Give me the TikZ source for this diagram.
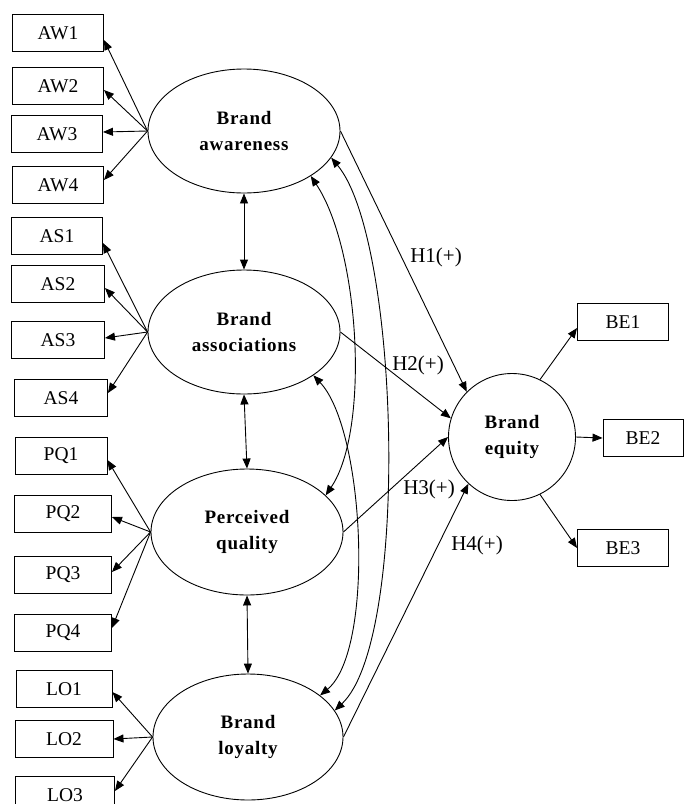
\documentclass[tikz,border=0pt]{standalone}
\usepackage{fontspec}
\setmainfont{Liberation Serif}
\newfontfamily\latfont[LetterSpace=4,BoldFont={Liberation Serif Bold}]{Liberation Serif}
\usetikzlibrary{arrows.meta,shapes.geometric}
\begin{document}
\begin{tikzpicture}[x=1pt,y=-1pt,
  lat/.style={draw, ellipse, line width=0.9pt, minimum width=192pt, minimum height=124pt, inner sep=0pt, align=center, font=\latfont\fontsize{19}{26}\selectfont\bfseries},
  latc/.style={draw, circle, line width=0.9pt, minimum size=127pt, inner sep=0pt, align=center, font=\latfont\fontsize{19}{26}\selectfont\bfseries},
  obs/.style={draw, rectangle, line width=0.9pt, minimum width=92pt, minimum height=37pt, inner sep=0pt, font=\fontsize{19.5}{21}\selectfont},
  arr/.style={-{Triangle[length=10pt,width=8pt]}, line width=0.9pt},
  dbl/.style={{Triangle[length=10pt,width=8pt]}-{Triangle[length=10pt,width=8pt]}, line width=0.9pt},
  hyp/.style={font=\fontsize{21}{23}\selectfont, inner sep=0pt}
]
\useasboundingbox (0,0) rectangle (686,804);
\clip (0,0) rectangle (686,804);

% latent constructs
\node[lat] (aw) at (244,131) {Brand\\awareness};
\node[lat] (as) at (244,332) {Brand\\associations};
\node[lat, minimum height=126pt] (pq) at (247,532) {Perceived\\quality};
\node[lat, minimum width=190pt, minimum height=126pt] (lo) at (248,737) {Brand\\loyalty};
\node[latc] (be) at (512,437) {Brand\\equity};

% indicators
\node[obs, minimum width=91pt] (AW1) at (58,33) {AW1};
\node[obs, minimum width=91pt] (AW2) at (58,86) {AW2};
\node[obs, minimum width=91pt] (AW3) at (57,134) {AW3};
\node[obs, minimum width=91pt] (AW4) at (58,185) {AW4};
\node[obs, minimum width=91pt] (AS1) at (57,236) {AS1};
\node[obs, minimum width=93pt] (AS2) at (58,284) {AS2};
\node[obs, minimum width=93pt] (AS3) at (58,340) {AS3};
\node[obs, minimum width=93pt] (AS4) at (61,398) {AS4};
\node[obs, minimum width=92pt] (PQ1) at (61,456) {PQ1};
\node[obs, minimum width=97pt] (PQ2) at (63,514) {PQ2};
\node[obs, minimum width=97pt] (PQ3) at (63,575) {PQ3};
\node[obs, minimum width=97pt] (PQ4) at (63,633) {PQ4};
\node[obs, minimum width=96pt] (LO1) at (64,689) {LO1};
\node[obs, minimum width=98pt] (LO2) at (64,739) {LO2};
\node[obs, minimum width=99pt] (LO3) at (65,795) {LO3};
\node[obs, minimum width=91pt] (BE1) at (623,322) {BE1};
\node[obs, minimum width=80pt] (BE2) at (643,438) {BE2};
\node[obs, minimum width=91pt] (BE3) at (623,548) {BE3};

% indicator arrows
\draw[arr] (aw.west) -- ([yshift=-7pt]AW1.east);
\draw[arr] (aw.west) -- ([yshift=-4pt]AW2.east);
\draw[arr] (aw.west) -- ([yshift=2pt]AW3.east);
\draw[arr] (aw.west) -- ([yshift=5pt]AW4.east);
\draw[arr] (as.west) -- ([yshift=-7pt]AS1.east);
\draw[arr] (as.west) -- ([yshift=-4pt]AS2.east);
\draw[arr] (as.west) -- ([yshift=2pt]AS3.east);
\draw[arr] (as.west) -- ([yshift=5pt]AS4.east);
\draw[arr] (pq.west) -- ([yshift=-4pt]PQ1.east);
\draw[arr] (pq.west) -- ([yshift=-3pt]PQ2.east);
\draw[arr] (pq.west) -- ([yshift=3pt]PQ3.east);
\draw[arr] (pq.west) -- ([yshift=5pt]PQ4.east);
\draw[arr] (lo.west) -- ([yshift=-3pt]LO1.east);
\draw[arr] (lo.west) -- (LO2.east);
\draw[arr] (lo.west) -- ([yshift=4pt]LO3.east);

% equity indicators
\draw[arr] (be.64) -- ([yshift=-6pt]BE1.west);
\draw[arr] (be.east) -- (BE2.west);
\draw[arr] (be.-64) -- (BE3.west);

% correlations between adjacent constructs
\draw[dbl] (aw.south) -- (as.north);
\draw[dbl] (as.south) -- (pq.north);
\draw[dbl] (pq.south) -- (lo.north);

% curved correlations
\draw[dbl] (aw.-34) .. controls (360,250) and (370,430) .. (pq.25);
\draw[dbl] (as.-32) .. controls (365,430) and (375,650) .. (lo.30);
\draw[dbl] (aw.-17) .. controls (400,240) and (410,640) .. (lo.17);

% hypotheses
\draw[arr] (aw.east) -- (be.135);
\draw[arr] (as.east) -- (be.163);
\draw[arr] (pq.east) -- (be.180);
\draw[arr] (lo.east) -- (be.-133);

\node[hyp] (h1) at (436,257) {H1(+)};
\node[hyp] (h2) at (418,365) {H2(+)};
\node[hyp] (h3) at (429,489) {H3(+)};
\node[hyp] (h4) at (477,545) {H4(+)};
\end{tikzpicture}
\end{document}
